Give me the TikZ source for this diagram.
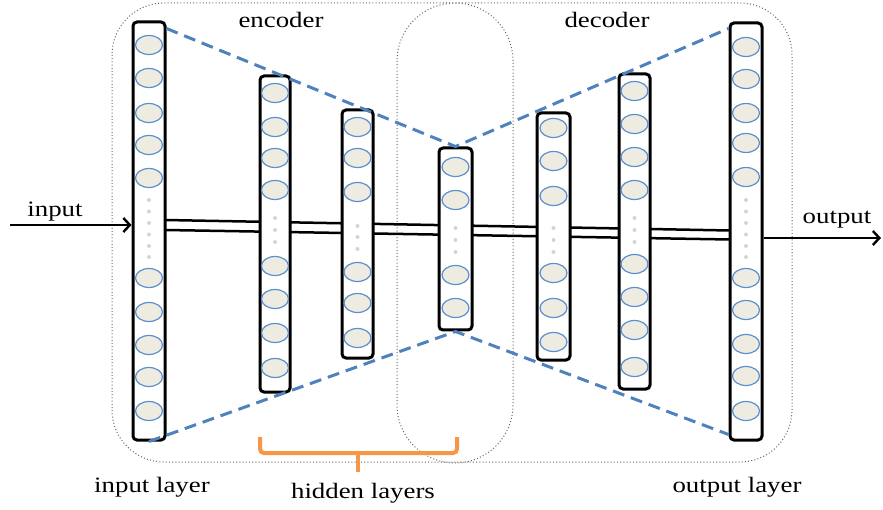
\documentclass[tikz,border=0pt]{standalone}
\usepackage{fontspec}
\setmainfont{Liberation Serif}[FakeStretch=1.22]
\usetikzlibrary{arrows.meta}

\definecolor{linkblue}{HTML}{4F81BD}
\definecolor{unitedge}{HTML}{5B8FD0}
\definecolor{unitfill}{HTML}{EEECE1}
\definecolor{dotgray}{HTML}{D4D4D4}
\definecolor{braceorange}{HTML}{F79646}

\tikzset{
  layerbar/.style={draw=black, fill=white, line width=3pt, rounded corners=4pt,
                   rectangle, inner sep=0pt},
  unit/.style={draw=unitedge, fill=unitfill, line width=1.2pt},
  gapdot/.style={fill=dotgray},
  funnel/.style={draw=linkblue, line width=3pt, dash pattern=on 12pt off 7pt},
  frame/.style={draw=black!60, line width=1pt, dash pattern=on 1pt off 2.2pt},
  wire/.style={draw=black, line width=2.5pt},
  flow/.style={draw=black, line width=2.4pt, -{Straight Barb[length=6.5pt,width=14pt,line width=2.4pt]}},
  caption/.style={font=\fontsize{22pt}{26pt}\selectfont, inner sep=0pt, anchor=base},
}

\begin{document}
\begin{tikzpicture}[x=1pt, y=-1pt]
\useasboundingbox (0,0) rectangle (883,510);

% dotted frames: whole autoencoder and the bottleneck region
\draw[frame, rounded corners=52pt] (112,3) rectangle (792,462);
\draw[frame, rounded corners=58pt] (397,3) rectangle (513,463);

% coordinates of the through-going double wire and the outer arrows
\coordinate (wa1) at (165,220);
\coordinate (wa2) at (730,230.5);
\coordinate (wb1) at (165,230);
\coordinate (wb2) at (730,239.5);
\coordinate (inpt) at (10,225);
\coordinate (outpt) at (881,238);

\draw[wire] (wa1) -- (wa2);
\draw[wire] (wb1) -- (wb2);

% layer bars
\node[layerbar, minimum width=32pt, minimum height=418pt] (L1) at (149,231) {};
\node[layerbar, minimum width=30pt, minimum height=316pt] (L2) at (275,234) {};
\node[layerbar, minimum width=31pt, minimum height=248pt] (L3) at (357.5,234) {};
\node[layerbar, minimum width=33pt, minimum height=182pt] (L4) at (455.5,239) {};
\node[layerbar, minimum width=33pt, minimum height=247pt] (L5) at (553.5,236.5) {};
\node[layerbar, minimum width=31pt, minimum height=315pt] (L6) at (634.5,231.5) {};
\node[layerbar, minimum width=32pt, minimum height=417pt] (L7) at (746,231.5) {};

% funnel outline of encoder and decoder
\draw[funnel] ([yshift=-8pt]L1.north east) -- (L4.north) -- ([yshift=-7pt]L7.north west);
\draw[funnel] (L1.south) -- (L4.south) -- ([yshift=7pt]L7.south west);

% neurons
\foreach \y in {45,78,113,145,178,278,312,345,377,411}
  \draw[unit] (149,\y) ellipse [x radius=13.5pt, y radius=9.5pt];
\foreach \y in {93,127,158,190,266,299,333,368}
  \draw[unit] (275,\y) ellipse [x radius=13.5pt, y radius=9.5pt];
\foreach \y in {127,158,192,272,303,338}
  \draw[unit] (357.5,\y) ellipse [x radius=13.5pt, y radius=9.5pt];
\foreach \y in {167,200,275,308}
  \draw[unit] (455.5,\y) ellipse [x radius=13.5pt, y radius=9.5pt];
\foreach \y in {128,161,196,273,308,342}
  \draw[unit] (553.5,\y) ellipse [x radius=13.5pt, y radius=9.5pt];
\foreach \y in {91,124,157,190,264,297,330,367}
  \draw[unit] (634.5,\y) ellipse [x radius=13.5pt, y radius=9.5pt];
\foreach \y in {47,79,113,143,177,278,310,344,376,411}
  \draw[unit] (746,\y) ellipse [x radius=13.5pt, y radius=9.5pt];

% elided neurons
\foreach \y in {200,211.5,223,234.5,246,257} {
  \fill[gapdot] (149,\y) circle [radius=2pt];
  \fill[gapdot] (746,\y) circle [radius=2pt];
}
\foreach \y in {218,230,242} {
  \fill[gapdot] (275,\y) circle [radius=2pt];
  \fill[gapdot] (634.5,\y) circle [radius=2pt];
}
\foreach \y in {226,237,249} \fill[gapdot] (357.5,\y) circle [radius=2pt];
\foreach \y in {228,240,252} {
  \fill[gapdot] (455.5,\y) circle [radius=2pt];
  \fill[gapdot] (553.5,\y) circle [radius=2pt];
}

% input and output arrows
\draw[flow] (inpt) -- (L1.west |- inpt);
\draw[flow] (L7.east |- outpt) -- (outpt);

% bracket under the hidden layers
\draw[draw=braceorange, line width=4pt, rounded corners=4pt]
  (260,437) -- (260,453) -- (457,453) -- (457,437);
\draw[draw=braceorange, line width=4pt] (358,452) -- (358,472);

% labels
\node[caption] (tin)   at (55,217)  {input};
\node[caption] (tout)  at (837,224) {output};
\node[caption] (tenc)  at (281,28)  {encoder};
\node[caption] (tdec)  at (607,28)  {decoder};
\node[caption] (tinl)  at (152,492) {input layer};
\node[caption] (thid)  at (363,498) {hidden layers};
\node[caption] (toutl) at (737,492) {output layer};
\end{tikzpicture}
\end{document}
